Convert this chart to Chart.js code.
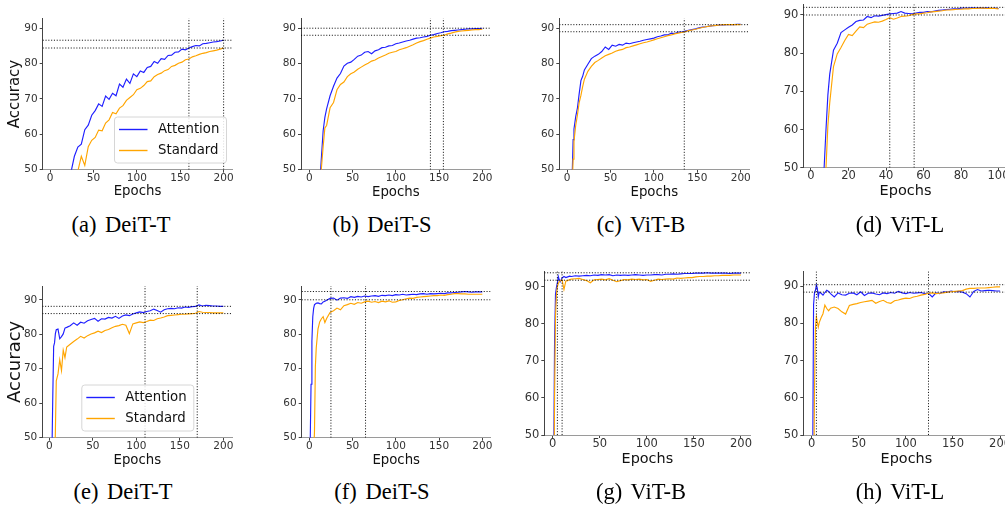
<!DOCTYPE html>
<html><head><meta charset="utf-8">
<script src="https://cdn.jsdelivr.net/npm/chart.js@4.4.0/dist/chart.umd.min.js"></script>
<style>
html,body{margin:0;padding:0;width:1005px;height:506px;overflow:hidden;background:#fff;}
canvas{position:absolute;}
.cap{position:absolute;font-family:'Liberation Serif','Times New Roman',serif;font-size:22.5px;color:#000;white-space:nowrap;transform:translate(-50%,-50%);word-spacing:3px;}
</style></head><body>
<script>
// ---------- data ----------
const E200 = [1,2,3,4,5,6,7,8,10,12,14,16,18,20,24,28,32,36,40,44,48,52,56,60,64,68,72,76,80,84,88,92,96,100,104,108,112,116,120,124,128,132,136,140,144,148,152,156,160,164,168,172,176,180,184,188,192,196,200];
const E100 = [1,2,3,4,5,6,7,8,9,10,12,14,16,18,20,22,24,26,28,30,32,34,36,38,40,42,44,46,48,50,52,54,56,58,60,62,64,66,68,70,72,74,76,78,80,82,84,86,88,90,92,94,96,98,100];

const attnA = [10,13,16,19,21,23,25,27, 30,33,36,39,41.5,
  44,49.2,53.8,56.4,57.2,61.3,62.6,65.4,66.7,68.6,
  67.9,70.8,69.9,71.6,70.9,74.2,73.3,75.6,74.4,77.1,
  76.3,77.9,77.5,78.9,79.2,80.6,80.1,81.4,81.2,82.3,
  82.4,83.2,83.3,84.1,83.9,84.4,84.8,85.1,85.0,85.6,
  85.7,85.9,86.1,86.2,86.4,86.6];
const stdA = [8,10,12,14,15.5,17,18.5,20, 23,26,28.5,31,33.5,
  36,40.5,45,49.6,53.8,51.2,56.5,58.3,59.1,61.2,
  61.0,63.2,64.1,66.2,65.8,67.4,68.1,69.6,70.4,71.2,
  72.6,73.0,73.8,74.9,75.1,76.3,76.9,77.3,78.0,78.3,
  79.2,79.5,80.1,80.4,81.1,81.3,81.9,82.2,82.6,82.9,
  83.1,83.4,83.6,83.8,84.1,84.4];

const attnB = [12,16,20,24,27,30,33,36, 41,46,53.5,61.0,64.8,
  67.2,70.9,73.6,75.9,77.2,79.3,80.1,80.4,81.2,82.1,
  82.4,83.2,83.4,82.8,83.6,83.9,84.5,84.6,85.0,85.1,
  85.6,85.8,86.1,86.4,86.6,86.9,87.2,87.3,87.5,87.7,
  88.0,88.2,88.5,88.7,89.0,89.1,89.3,89.4,89.5,89.6,
  89.7,89.8,89.8,89.9,89.9,90.0];
const stdB = [10,14,18,22,25,28,31,34, 39,44,50.5,56.5,61.8,
  62.5,67.5,69.0,72.6,74.1,74.8,76.3,77.1,77.6,78.4,
  79.0,79.6,80.1,80.7,81.0,81.6,82.0,82.4,82.9,83.2,
  83.4,83.9,84.2,84.5,84.9,85.3,85.8,86.2,86.5,86.9,
  87.2,87.5,87.7,87.9,88.0,88.4,88.6,88.9,89.1,89.2,
  89.3,89.4,89.5,89.6,89.6,89.7];

const attnC = [8,16,25,33,41,49,58.5,61.5, 65.0,67.5,71.5,75.2,76.4,
  78.2,79.8,81.4,82.1,82.6,83.4,84.7,84.0,85.2,84.9,
  85.4,85.2,85.8,85.6,85.9,86.1,86.3,86.6,86.8,87.0,
  87.2,87.6,87.8,88.1,88.1,88.6,88.5,88.9,88.9,89.2,
  89.4,89.6,89.8,90.1,90.3,90.4,90.6,90.7,90.8,90.9,
  90.9,91.0,91.0,91.0,91.1,91.1];
const stdC = [6,13,21,29,37,45,53,58.0, 62.5,65.5,69.0,71.0,73.5,
  75.6,77.8,79.2,80.3,80.9,81.6,82.2,82.6,83.0,83.5,
  83.8,84.0,84.5,84.7,85.0,85.3,85.6,85.9,86.1,86.4,
  86.7,87.0,87.3,87.6,87.9,88.1,88.4,88.6,88.8,89.0,
  89.3,89.5,89.7,90.0,90.2,90.4,90.6,90.7,90.8,90.9,
  91.0,91.0,91.0,91.0,91.0,91.0];

const attnD = [8,14,20,27,34,42,50,60,69,74.5,
  80.8,82.6,85.4,86.1,86.8,87.4,88.3,88.6,88.7,89.6,
  89.3,89.8,89.7,89.9,90.1,90.3,90.4,90.5,90.9,90.5,
  90.4,90.3,90.5,90.7,90.7,90.9,90.8,91.0,91.2,91.3,
  91.4,91.5,91.6,91.6,91.8,91.8,91.8,91.9,91.8,91.9,
  91.8,91.9,91.7,91.8,91.7];
const stdD = [5,10,16,22,28,35,42,50,61,67,
  76.5,79.8,81.5,83.3,84.9,84.6,85.8,86.9,86.7,87.6,
  87.9,88.2,88.1,88.4,88.8,89.3,88.9,89.2,89.6,89.7,
  89.8,90.1,90.3,90.3,90.5,90.6,90.8,90.9,91.0,91.1,
  91.3,91.3,91.4,91.5,91.5,91.6,91.6,91.7,91.7,91.8,
  91.8,91.7,91.8,91.7,91.6];

const attnE = [10,25,45,62,76.5,77.5,80.2,81.3, 81.5,78.7,79.3,80.1,81.8,
  82.0,82.5,83.3,82.6,83.5,83.2,83.9,84.3,84.6,83.8,
  84.5,84.4,84.9,84.7,85.2,84.6,85.3,85.6,85.4,85.9,
  86.2,86.5,86.3,86.6,86.8,87.3,86.9,86.4,87.1,87.4,
  87.5,87.4,87.7,87.6,87.9,87.8,88.0,88.1,88.5,88.2,
  88.4,88.3,88.2,88.2,88.1,88.1];
const stdE = [5,10,15,20,28,38,52,66.5, 68.5,72.6,69.5,75.4,73.2,
  76.3,77.1,77.9,78.6,79.4,78.9,79.6,80.1,80.4,80.9,
  80.5,81.1,81.4,81.9,82.3,82.5,82.9,82.6,80.2,83.0,
  83.3,83.6,83.4,83.7,84.1,84.0,84.5,84.7,85.0,85.4,
  85.5,85.6,85.7,85.8,85.8,85.9,86.0,86.1,86.6,86.4,
  86.3,86.3,86.2,86.2,86.2,86.2];

const attnF = [48,65.5,78,85.1,87.5,88.6,88.8,89.0, 89.1,88.9,88.8,89.4,89.6,
  89.9,90.4,90.5,89.9,90.5,90.6,90.4,90.9,90.7,91.0,
  90.8,91.1,90.9,91.1,91.2,91.0,91.3,91.2,91.4,91.2,
  91.5,91.4,91.6,91.4,91.5,91.6,91.5,91.7,91.8,91.6,
  91.8,91.7,91.8,91.9,91.8,92.0,92.0,92.1,92.2,92.3,
  92.4,92.3,92.2,92.3,92.3,92.3];
const stdF = [10,20,30,38,45,52,70.6,76.0, 81.5,83.6,84.5,85.1,83.4,
  84.6,86.3,86.8,87.6,87.1,88.3,88.6,89.0,88.7,89.2,
  89.0,89.4,89.6,89.3,89.5,89.2,89.6,89.4,89.7,89.3,
  89.4,89.8,90.0,90.3,90.5,90.4,90.7,90.8,90.9,91.0,
  91.1,91.2,91.2,91.4,91.3,91.5,91.6,91.8,91.8,91.7,
  91.7,91.6,91.6,91.6,91.6,91.6];

const attnG = [40,75,88,89.8,91.0,92.7,91.8,91.3, 92.3,92.7,92.4,92.6,92.8,
  92.7,92.9,92.8,92.9,93.0,92.9,93.1,93.0,93.2,93.1,
  93.2,92.9,93.1,93.0,93.1,93.0,93.1,93.2,93.1,93.0,
  93.1,93.1,93.2,93.2,93.1,93.3,93.3,93.4,93.3,93.4,
  93.5,93.5,93.5,93.6,93.6,93.6,93.7,93.6,93.6,93.6,
  93.6,93.6,93.5,93.6,93.6,93.6];
const stdG = [20,60,82,88.0,90.0,90.8,91.3,91.5, 91.8,89.2,91.5,91.6,91.9,
  92.0,92.1,92.2,91.9,91.6,91.0,91.8,91.9,92.0,91.8,
  92.1,91.7,91.3,91.6,91.9,91.8,92.0,91.9,92.0,91.8,
  91.9,91.4,91.7,92.0,91.9,92.0,92.1,92.0,92.3,92.2,
  92.3,92.4,92.4,92.6,92.7,92.7,92.8,92.8,92.9,92.9,
  93.0,93.0,93.0,93.1,93.1,93.1];

const attnH = [40,85,88.3,88.9,90.3,89.4,87.1,88.4, 88.1,87.6,88.3,88.9,88.6,
  88.0,87.1,88.2,87.7,87.6,88.1,88.2,87.7,88.5,87.5,
  88.1,88.2,87.9,87.7,88.2,88.0,88.3,88.1,88.6,88.2,
  88.0,88.3,88.1,88.2,88.3,88.0,88.1,87.1,88.2,88.0,
  88.5,88.4,88.7,88.5,88.6,88.4,88.0,87.1,88.6,89.1,
  88.7,88.8,88.9,88.8,88.7,88.7];
const stdH = [10,30,62,79.0,81.7,80.3,79.0,80.2, 81.5,82.6,84.9,84.0,83.4,
  84.1,84.4,84.0,83.1,82.5,84.8,85.1,85.3,85.6,85.8,
  86.0,86.2,85.4,85.9,86.2,85.6,85.4,86.1,86.3,86.6,
  86.8,86.7,87.1,87.3,87.6,87.8,88.1,88.2,88.0,88.1,
  88.2,88.4,88.5,88.6,88.7,88.8,89.2,89.4,89.4,89.5,
  89.5,89.5,89.6,89.7,89.8,89.8];

// reference (dotted) lines
const hA = [86.6, 84.4], vA = [160, 200];
const hB = [90.0, 88.0], vB = [140, 155];
const hC = [91.0, 89.0], vC = [135];
const hD = [92.0, 90.0], vD = [42, 55];
const hE = [88.1, 86.0], vE = [110, 170];
const hF = [92.4, 90.0], vF = [25, 65];
const hG = [93.7, 91.7], vG = [5, 10];
const hH = [90.4, 88.4], vH = [5, 124];

// ticks
const xTicks200 = [0, 50, 100, 150, 200];
const xTicks100 = [0, 20, 40, 60, 80, 100];
const yTicks = [50, 60, 70, 80, 90];

const seriesNames = ['Attention', 'Standard'];
const captions = ['(a) DeiT-T','(b) DeiT-S','(c) ViT-B','(d) ViT-L','(e) DeiT-T','(f) DeiT-S','(g) ViT-B','(h) ViT-L'];

// ---------- layout (styles / positions) ----------
const panels = [
 {ep:E200, a:attnA, s:stdA, h:hA, v:vA, xt:xTicks200, L:42.7, T:18.3, R:232.3, B:169.7, xmin:-8.5, xmax:210, ymax:92.8, xlY:192, xlS:13.3, tS:10.5, ylab:15, legend:'right', cap:[121,225]},
 {ep:E200, a:attnB, s:stdB, h:hB, v:vB, xt:xTicks200, L:301, T:18.3, R:490.7, B:169.7, xmin:-9.6, xmax:209.7, ymax:92.8, xlY:192.3, xlS:13.3, tS:10.5, cap:[382,225]},
 {ep:E200, a:attnC, s:stdC, h:hC, v:vC, xt:xTicks200, L:559.3, T:18.3, R:749.4, B:169.7, xmin:-8.9, xmax:210, ymax:92.8, xlY:192.3, xlS:13.3, tS:10.5, cap:[641,225]},
 {ep:E100, a:attnD, s:stdD, h:hD, v:vD, xt:xTicks100, L:803.3, T:4.3, R:1007.8, B:167.7, xmin:-4.1, xmax:104.95, ymax:92.8, xlY:191.7, xlS:14.5, tS:11.5, cap:[900,225]},
 {ep:E200, a:attnE, s:stdE, h:hE, v:vE, xt:xTicks200, L:42.3, T:286, R:232.3, B:437.7, xmin:-8.05, xmax:210.3, ymax:94, xlY:460.7, xlS:13.3, tS:10.5, ylab:18, legend:'center', cap:[123,491.5]},
 {ep:E200, a:attnF, s:stdF, h:hF, v:vF, xt:xTicks200, L:301.7, T:286, R:490.7, B:437.7, xmin:-8.8, xmax:209.7, ymax:94, xlY:460.7, xlS:13.3, tS:10.5, cap:[382,491.5]},
 {ep:E200, a:attnG, s:stdG, h:hG, v:vG, xt:xTicks200, L:544.3, T:271.3, R:750.4, B:435, xmin:-8.9, xmax:210, ymax:94.1, xlY:459.3, xlS:14.4, tS:11.5, cap:[641,491.5]},
 {ep:E200, a:attnH, s:stdH, h:hH, v:vH, xt:xTicks200, L:803.3, T:271.3, R:1009.5, B:435, xmin:-8.9, xmax:210, ymax:94, xlY:459.3, xlS:14.4, tS:11.5, cap:[900,491.5]}
];

const BLUE = '#1f1fff', ORANGE = '#ffa500';

const boxLegend = {
  id: 'boxLegend',
  afterDatasetsDraw(chart, args, opts) {
    if (!opts || !opts.where) return;
    const ctx = chart.ctx, ca = chart.chartArea;
    const items = chart.data.datasets.filter(d => d.inLegend).sort((p, q) => p.legendIdx - q.legendIdx);
    const w = 112, h = 46;
    const x = opts.where === 'right' ? ca.right - 6.3 - w : (ca.left + ca.right) / 2 - w / 2;
    const y = ca.bottom - 7.2 - h;
    ctx.save();
    ctx.beginPath();
    if (ctx.roundRect) ctx.roundRect(x + 0.5, y + 0.5, w, h, 3); else ctx.rect(x + 0.5, y + 0.5, w, h);
    ctx.fillStyle = 'rgba(255,255,255,0.85)';
    ctx.fill();
    ctx.strokeStyle = '#d6d6d6';
    ctx.lineWidth = 1;
    ctx.stroke();
    ctx.font = '13.3px "DejaVu Sans"';
    ctx.textBaseline = 'middle';
    ctx.textAlign = 'left';
    items.forEach((d, i) => {
      const cy = y + 13 + i * 21;
      ctx.beginPath();
      ctx.moveTo(x + 5, cy); ctx.lineTo(x + 33.5, cy);
      ctx.strokeStyle = d.borderColor; ctx.lineWidth = 1.4; ctx.stroke();
      ctx.fillStyle = '#111';
      ctx.fillText(d.label, x + 44, cy + 0.5);
    });
    ctx.restore();
  }
};

panels.forEach((p, idx) => {
  const cl = p.ylab ? 0 : Math.floor(p.L - 34);
  const ct = Math.floor(p.T - 3);
  const YW = p.L - cl;
  const PT = p.T - ct;
  const lh = p.xlS * 1.2;
  const XH = (p.xlY - p.B) + lh / 2;
  const W = Math.ceil(p.R - cl + 20);
  const PR = W - (p.R - cl);
  const H = Math.ceil(p.B - ct + XH + 2);
  const PB = H - XH - (p.B - ct);

  const cv = document.createElement('canvas');
  cv.width = W; cv.height = H;
  cv.style.left = cl + 'px'; cv.style.top = ct + 'px';
  cv.style.width = W + 'px'; cv.style.height = H + 'px';
  document.body.appendChild(cv);

  const dotted = [];
  p.h.forEach(v => dotted.push({data: [{x: p.xmin, y: v}, {x: p.xmax, y: v}]}));
  p.v.forEach(v => dotted.push({data: [{x: v, y: 50}, {x: v, y: p.ymax}]}));
  const dotSets = dotted.map(d => ({
    label: 'ref', data: d.data, borderColor: 'rgba(0,0,0,0.9)', borderWidth: 1,
    borderDash: [1.1, 1.7], pointRadius: 0, tension: 0, order: 0, inLegend: false
  }));

  const datasets = [
    ...dotSets,
    {label: seriesNames[1], data: p.ep.map((e, i) => ({x: e, y: p.s[i]})), borderColor: ORANGE, borderWidth: 1.15,
     pointRadius: 0, tension: 0, order: 1, inLegend: true, legendIdx: 1},
    {label: seriesNames[0], data: p.ep.map((e, i) => ({x: e, y: p.a[i]})), borderColor: BLUE, borderWidth: 1.15,
     pointRadius: 0, tension: 0, order: 2, inLegend: true, legendIdx: 0}
  ];

  const tickFont = {family: 'DejaVu Sans', size: p.tS, lineHeight: 1};
  new Chart(cv, {
    type: 'line',
    data: {datasets},
    plugins: p.legend ? [boxLegend] : [],
    options: {
      responsive: false, animation: false, devicePixelRatio: 1,
      layout: {padding: {left: 0, top: PT, right: PR, bottom: PB}},
      plugins: {legend: {display: false}, tooltip: {enabled: false}, title: {display: false},
                boxLegend: p.legend ? {where: p.legend} : {}},
      events: [],
      scales: {
        x: {
          type: 'linear', position: 'bottom', min: p.xmin, max: p.xmax,
          afterBuildTicks: s => { s.ticks = p.xt.map(v => ({value: v})); },
          afterFit: s => { s.height = XH; s.paddingLeft = 0; s.paddingRight = 0; s.paddingTop = 0; s.paddingBottom = 0; },
          ticks: {font: tickFont, color: '#333', padding: 0, maxRotation: 0, autoSkip: false},
          grid: {display: true, drawOnChartArea: false, drawTicks: true, tickLength: 3, color: '#444'},
          border: {display: true, color: '#9a9a9a', width: 1},
          title: {display: true, text: 'Epochs', color: '#111', padding: 0,
                  font: {family: 'DejaVu Sans', size: p.xlS, lineHeight: 1.2}}
        },
        y: {
          type: 'linear', position: 'left', min: 50, max: p.ymax,
          afterBuildTicks: s => { s.ticks = yTicks.map(v => ({value: v})); },
          afterFit: s => { s.width = YW; s.paddingLeft = 0; s.paddingRight = 0; s.paddingTop = 0; s.paddingBottom = 0; },
          ticks: {font: tickFont, color: '#333', padding: 2},
          grid: {display: true, drawOnChartArea: false, drawTicks: true, tickLength: 3, color: '#444'},
          border: {display: true, color: '#444', width: 1},
          title: {display: !!p.ylab, text: 'Accuracy', color: '#111',
                  padding: {top: p.ylab ? Math.max(0, 15 - cl - (p.ylab * 1.2) / 2) : 0, bottom: 0},
                  font: {family: 'DejaVu Sans', size: p.ylab || 13, lineHeight: 1.2}}
        }
      }
    }
  });

  const cap = document.createElement('div');
  cap.className = 'cap';
  cap.textContent = captions[idx];
  cap.style.left = p.cap[0] + 'px';
  cap.style.top = p.cap[1] + 'px';
  document.body.appendChild(cap);
});
</script>
</body></html>
